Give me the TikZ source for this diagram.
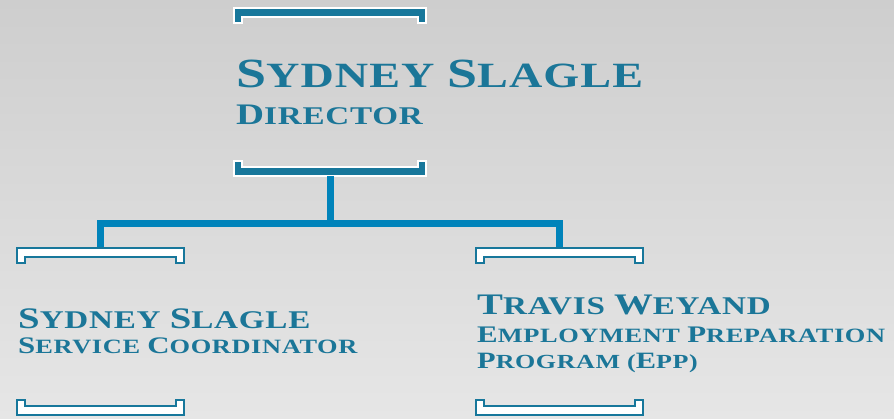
\documentclass[tikz,border=0pt]{standalone}
\usepackage{fontspec, graphicx}
\newfontfamily\plate[FakeStretch=1.3,LetterSpace=3]{Liberation Serif}
\definecolor{teal}{HTML}{17779B}
\definecolor{wire}{HTML}{0083BA}
\definecolor{ink}{HTML}{1B7698}
\newcommand\bc[1]{\scalebox{1.17}{#1}}
\tikzset{
  label/.style={anchor=base west, inner sep=0pt, text=ink, font=\plate\bfseries},
  link/.style={draw=wire, line width=7pt, line join=miter},
  solid br/.style={fill=teal, draw=white, line width=2pt},
  open br/.style={fill=white, draw=teal, line width=2pt}
}
\begin{document}
\begin{tikzpicture}[x=1pt, y=-1pt]
		% background
		\shade[top color={rgb,255:red,206;green,206;blue,206}, bottom color={rgb,255:red,230;green,230;blue,230}] (0,0) rectangle (894,419);
		\useasboundingbox (0,0) rectangle (894,419);
		% brackets with legs down
		\foreach \xa/\xb/\ya/\s in {234/426/8/solid br, 17/184/248/open br, 476/643/248/open br}
		{
			\path[\s] (\xa,\ya) -- (\xb,\ya) -- (\xb,\ya+15) -- (\xb-8,\ya+15) -- (\xb-8,\ya+9)
				-- (\xa+8,\ya+9) -- (\xa+8,\ya+15) -- (\xa,\ya+15) -- cycle;
		}
		% brackets with legs up
		\foreach \xa/\xb/\yb/\s in {234/426/176/solid br, 17/184/415/open br, 476/643/415/open br}
		{
			\path[\s] (\xa,\yb) -- (\xb,\yb) -- (\xb,\yb-15) -- (\xb-8,\yb-15) -- (\xb-8,\yb-9)
				-- (\xa+8,\yb-9) -- (\xa+8,\yb-15) -- (\xa,\yb-15) -- cycle;
		}
		% ends of the connectors
		\coordinate (dir) at (330,176);
		\coordinate (bus) at (330,223.5);
		\coordinate (coord) at (100,247);
		\coordinate (epp) at (559,247);
		\draw[link] (dir) -- (bus);
		\draw[link] (coord) |- (bus) -| (epp);
		% names and titles
		\node[label, font=\plate\bfseries\fontsize{35.5}{37}\selectfont] (dirname) at (236,88) {\bc{S}YDNEY \bc{S}LAGLE};
		\node[label, font=\plate\bfseries\fontsize{25.5}{27}\selectfont] (dirtitle) at (236,125) {\bc{D}IRECTOR};
		\node[label, font=\plate\bfseries\fontsize{25.5}{27}\selectfont] (coordname) at (18,329) {\bc{S}YDNEY \bc{S}LAGLE};
		\node[label, font=\plate\bfseries\fontsize{20.3}{22}\selectfont] (coordtitle) at (18,354) {\bc{S}ERVICE \bc{C}OORDINATOR};
		\node[label, font=\plate\bfseries\fontsize{25.5}{27}\selectfont] (eppname) at (477,315) {\bc{T}RAVIS \bc{W}EYAND};
		\node[label, font=\plate\bfseries\fontsize{20.3}{22}\selectfont] (epptitle) at (477,343) {\bc{E}MPLOYMENT \bc{P}REPARATION};
		\node[label, font=\plate\bfseries\fontsize{20}{22}\selectfont] (eppprog) at (477,369) {\bc{P}ROGRAM (\bc{E}PP)};
	\end{tikzpicture}
\end{document}
